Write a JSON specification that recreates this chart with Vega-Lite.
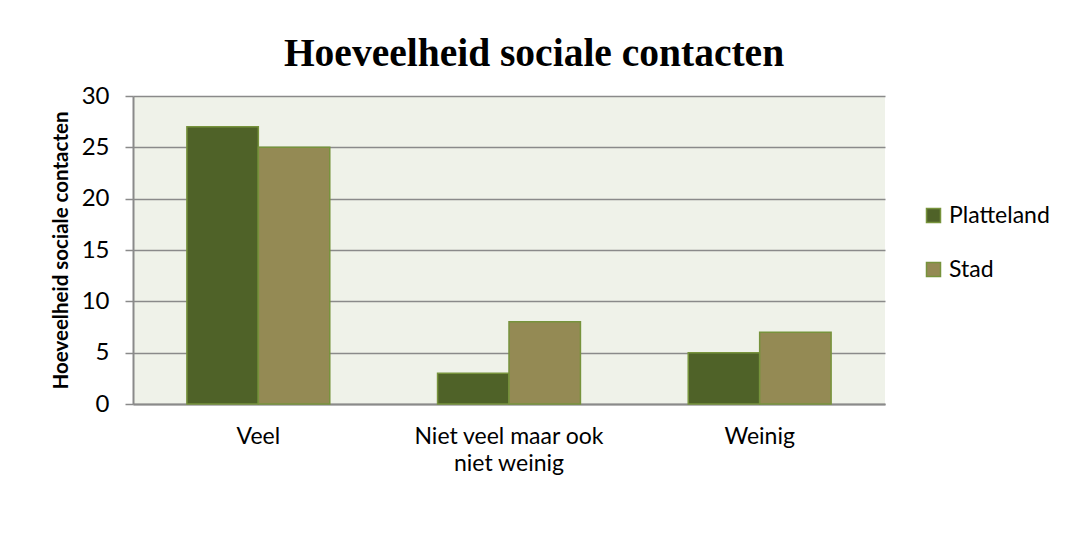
{
  "$schema": "https://vega.github.io/schema/vega-lite/v6.json",
  "autosize": {"type": "none"},
  "padding": {"left": 133, "top": 96, "right": 181, "bottom": 130},
  "width": 752,
  "height": 308,
  "background": "#ffffff",
  "title": {
    "text": "Hoeveelheid sociale contacten",
    "font": "Liberation Serif",
    "fontSize": 39.5,
    "fontWeight": "bold",
    "color": "#000000",
    "anchor": "middle",
    "dx": 25,
    "offset": 10
  },
  "data": {
    "values": [
      {"categorie": "Veel", "gebied": "Platteland", "aantal": 27},
      {"categorie": "Veel", "gebied": "Stad", "aantal": 25},
      {"categorie": "Niet veel maar ook niet weinig", "gebied": "Platteland", "aantal": 3},
      {"categorie": "Niet veel maar ook niet weinig", "gebied": "Stad", "aantal": 8},
      {"categorie": "Weinig", "gebied": "Platteland", "aantal": 5},
      {"categorie": "Weinig", "gebied": "Stad", "aantal": 7}
    ]
  },
  "mark": {"type": "bar", "stroke": "#77933c", "strokeWidth": 1.5},
  "encoding": {
    "x": {
      "field": "categorie",
      "type": "nominal",
      "sort": null,
      "scale": {"paddingInner": 0.43, "paddingOuter": 0.215},
      "axis": {
        "title": null,
        "labelAngle": 0,
        "ticks": false,
        "domain": true,
        "domainColor": "#8a8a8a",
        "domainWidth": 2,
        "labelFont": "Lato",
        "labelFontSize": 23,
        "labelColor": "#000000",
        "labelPadding": 21,
        "labelLineHeight": 27,
        "labelBaseline": "top",
        "labelLimit": 400,
        "labelOverlap": false,
        "labelExpr": "datum.value == 'Niet veel maar ook niet weinig' ? ['Niet veel maar ook', 'niet weinig'] : datum.value"
      }
    },
    "xOffset": {"field": "gebied", "type": "nominal", "sort": ["Platteland", "Stad"], "scale": {"paddingInner": 0, "paddingOuter": 0}},
    "y": {
      "field": "aantal",
      "type": "quantitative",
      "scale": {"domain": [0, 30], "nice": false},
      "axis": {
        "title": "Hoeveelheid sociale contacten",
        "titleFont": "Lato",
        "titleFontSize": 20.5,
        "titleFontWeight": "bold",
        "titleColor": "#000000",
        "titlePadding": 10,
        "values": [0, 5, 10, 15, 20, 25, 30],
        "labelFont": "Lato",
        "labelFontSize": 24,
        "labelColor": "#000000",
        "labelPadding": 16,
        "tickSize": 8,
        "tickColor": "#8a8a8a",
        "tickWidth": 1.5,
        "domainColor": "#8a8a8a",
        "domainWidth": 2,
        "grid": true,
        "gridColor": "#8a8a8a",
        "gridWidth": 1.5
      }
    },
    "color": {
      "field": "gebied",
      "type": "nominal",
      "sort": ["Platteland", "Stad"],
      "scale": {"domain": ["Platteland", "Stad"], "range": ["#4f6228", "#948a54"]},
      "legend": {
        "title": null,
        "orient": "none",
        "legendX": 789,
        "legendY": 108,
        "symbolType": "square",
        "symbolSize": 196,
        "symbolStrokeColor": "#77933c",
        "symbolStrokeWidth": 1.5,
        "symbolOpacity": 1,
        "labelFont": "Lato",
        "labelFontSize": 23,
        "labelColor": "#000000",
        "labelOffset": 4,
        "rowPadding": 30
      }
    }
  },
  "config": {
    "view": {"fill": "#eff2e9", "stroke": null}
  }
}
